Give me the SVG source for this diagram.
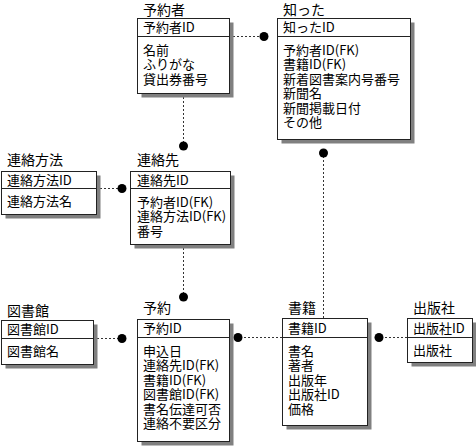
<svg xmlns="http://www.w3.org/2000/svg" width="476" height="446" viewBox="0 0 476 446">
<defs>
<style>
.sh{fill:#808080;stroke:none}
.bx{fill:#fff;stroke:#222;stroke-width:1}
.sp{stroke:#222;stroke-width:1}
.t{font-family:"Noto Sans CJK JP","Noto Sans",sans-serif;font-size:13px;fill:#000}
.ti{font-family:"Noto Sans CJK JP","Noto Sans",sans-serif;font-size:14px;fill:#000}
.cn{stroke:#333;stroke-width:1;stroke-dasharray:2 2;fill:none}
.dt{fill:#000}
</style>
</defs>
<rect width="476" height="446" fill="#fff"/>
<g id="connectors">
<line class="cn" x1="229" y1="36.5" x2="264" y2="36.5"/><circle class="dt" cx="264" cy="36.5" r="4.5"/>
<line class="cn" x1="183.5" y1="93" x2="183.5" y2="146"/><circle class="dt" cx="183.5" cy="146" r="4.5"/>
<line class="cn" x1="96" y1="188.5" x2="122" y2="188.5"/><circle class="dt" cx="122" cy="188.5" r="4.5"/>
<line class="cn" x1="183.5" y1="244" x2="183.5" y2="297"/><circle class="dt" cx="183.5" cy="297" r="4.5"/>
<line class="cn" x1="93" y1="338.5" x2="122" y2="338.5"/><circle class="dt" cx="122" cy="338.5" r="4.5"/>
<line class="cn" x1="282" y1="337.5" x2="238" y2="337.5"/><circle class="dt" cx="238" cy="337.5" r="4.5"/>
<line class="cn" x1="323.5" y1="318" x2="323.5" y2="153"/><circle class="dt" cx="323.5" cy="153" r="4.5"/>
<line class="cn" x1="407" y1="337.5" x2="379" y2="337.5"/><circle class="dt" cx="379" cy="337.5" r="4.5"/>
</g>
<g id="yoyakusha">
<text class="ti" x="143" y="15">予約者</text>
<rect class="sh" x="141.5" y="22.5" width="92" height="75"/>
<rect class="bx" x="137.5" y="18.5" width="92" height="75"/>
<line class="sp" x1="137.5" y1="36.5" x2="229.5" y2="36.5"/>
<text class="t" x="143" y="32">予約者ID</text>
<text class="t" x="143" y="54.8">名前</text>
<text class="t" x="143" y="69.3">ふりがな</text>
<text class="t" x="143" y="83.8">貸出券番号</text>
</g>
<g id="shitta">
<text class="ti" x="283" y="15">知った</text>
<rect class="sh" x="281.5" y="22.5" width="133" height="121"/>
<rect class="bx" x="277.5" y="18.5" width="133" height="121"/>
<line class="sp" x1="277.5" y1="36.5" x2="410.5" y2="36.5"/>
<text class="t" x="283" y="32">知ったID</text>
<text class="t" x="283" y="54.8">予約者ID(FK)</text>
<text class="t" x="283" y="69.3">書籍ID(FK)</text>
<text class="t" x="283" y="83.8">新着図書案内号番号</text>
<text class="t" x="283" y="98.3">新聞名</text>
<text class="t" x="283" y="112.8">新聞掲載日付</text>
<text class="t" x="283" y="127.3">その他</text>
</g>
<g id="renraku-houhou">
<text class="ti" x="7" y="165">連絡方法</text>
<rect class="sh" x="5.5" y="175.5" width="95" height="43"/>
<rect class="bx" x="1.5" y="171.5" width="95" height="43"/>
<line class="sp" x1="1.5" y1="188.5" x2="96.5" y2="188.5"/>
<text class="t" x="7" y="184.5">連絡方法ID</text>
<text class="t" x="7" y="206">連絡方法名</text>
</g>
<g id="renrakusaki">
<text class="ti" x="137" y="165">連絡先</text>
<rect class="sh" x="134.5" y="175.5" width="100" height="73"/>
<rect class="bx" x="130.5" y="171.5" width="100" height="73"/>
<line class="sp" x1="130.5" y1="188.5" x2="230.5" y2="188.5"/>
<text class="t" x="137" y="184.5">連絡先ID</text>
<text class="t" x="137" y="206.8">予約者ID(FK)</text>
<text class="t" x="137" y="221.3">連絡方法ID(FK)</text>
<text class="t" x="137" y="235.8">番号</text>
</g>
<g id="toshokan">
<text class="ti" x="7" y="316">図書館</text>
<rect class="sh" x="5.5" y="324.5" width="92" height="44"/>
<rect class="bx" x="1.5" y="320.5" width="92" height="44"/>
<line class="sp" x1="1.5" y1="338.5" x2="93.5" y2="338.5"/>
<text class="t" x="7" y="334">図書館ID</text>
<text class="t" x="7" y="356">図書館名</text>
</g>
<g id="yoyaku">
<text class="ti" x="143" y="313">予約</text>
<rect class="sh" x="141.5" y="323.5" width="92" height="122"/>
<rect class="bx" x="137.5" y="319.5" width="92" height="122"/>
<line class="sp" x1="137.5" y1="337.5" x2="229.5" y2="337.5"/>
<text class="t" x="143" y="333">予約ID</text>
<text class="t" x="143" y="355.8">申込日</text>
<text class="t" x="143" y="370.3">連絡先ID(FK)</text>
<text class="t" x="143" y="384.8">書籍ID(FK)</text>
<text class="t" x="143" y="399.3">図書館ID(FK)</text>
<text class="t" x="143" y="413.8">書名伝達可否</text>
<text class="t" x="143" y="428.3">連絡不要区分</text>
</g>
<g id="shoseki">
<text class="ti" x="288" y="313">書籍</text>
<rect class="sh" x="286.5" y="322.5" width="85" height="107"/>
<rect class="bx" x="282.5" y="318.5" width="85" height="107"/>
<line class="sp" x1="282.5" y1="337.5" x2="367.5" y2="337.5"/>
<text class="t" x="288" y="332.5">書籍ID</text>
<text class="t" x="288" y="355.8">書名</text>
<text class="t" x="288" y="370.3">著者</text>
<text class="t" x="288" y="384.8">出版年</text>
<text class="t" x="288" y="399.3">出版社ID</text>
<text class="t" x="288" y="413.8">価格</text>
</g>
<g id="shuppansha">
<text class="ti" x="413" y="313">出版社</text>
<rect class="sh" x="411.5" y="322.5" width="65" height="44"/>
<rect class="bx" x="407.5" y="318.5" width="65" height="44"/>
<line class="sp" x1="407.5" y1="337.5" x2="472.5" y2="337.5"/>
<text class="t" x="413" y="332.5">出版社ID</text>
<text class="t" x="413" y="355">出版社</text>
</g>
</svg>
